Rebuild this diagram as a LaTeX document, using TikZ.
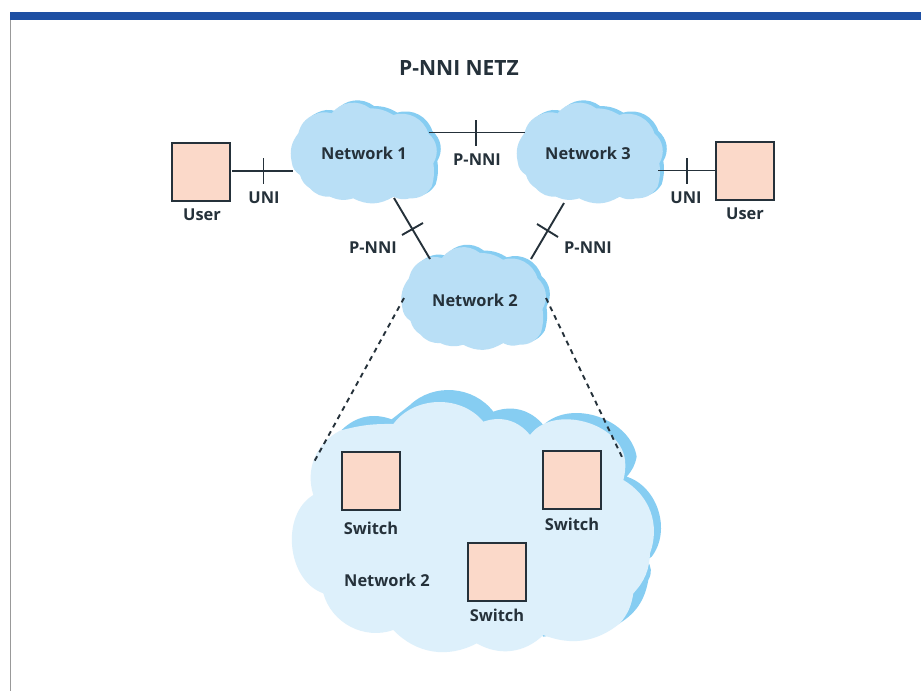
\documentclass[tikz,border=0pt]{standalone}
\usepackage{fontspec}
\setmainfont{Open Sans}
\definecolor{cloudback}{HTML}{86CDF2}
\definecolor{cloudfront}{HTML}{B9DFF6}
\definecolor{cloudbig}{HTML}{DDF0FB}
\definecolor{boxfill}{HTML}{FBD9C9}
\definecolor{ink}{HTML}{25313A}
\definecolor{barblue}{HTML}{1E4FA3}
\tikzset{x=1pt,y=-1pt,
  lbl/.style={font=\fontsize{16.4}{18}\selectfont\bfseries,text=ink,inner sep=0pt},
  boxn/.style={draw=ink,line width=2pt,fill=boxfill,minimum size=58pt,inner sep=0pt},
  link/.style={draw=ink,line width=1.9pt},
  dots/.style={draw=ink,line width=1.9pt,dash pattern=on 5pt off 4.5pt}}
\newcommand{\bl}[1]{to[bend left=#1]}
\newcommand{\smallcloud}{(425,245) \bl{25} (445,160) \bl{25} (490,105) \bl{20} (545,100) \bl{45} (660,85) \bl{15} (730,105) \bl{45} (835,160) \bl{40} (850,250) \bl{12} (845,320) \bl{30} (780,355) \bl{20} (730,350) \bl{30} (610,355) \bl{20} (540,350) \bl{25} (480,325) \bl{20} (450,285) \bl{25} (425,245) -- cycle}
\newcommand{\bigcloud}{(100,345) \bl{40} (180,152) \bl{8} (340,132) \bl{52} (610,125) \bl{35} (750,165) \bl{68} (1035,240) \bl{10} (1030,300) \bl{40} (1110,520) \bl{20} (1060,640) \bl{15} (1020,730) \bl{30} (790,765) \bl{37} (590,790) \bl{37} (340,750) \bl{47} (130,640) \bl{65} (100,345) -- cycle}
\newcommand{\bigback}{(185,150) \bl{32} (335,118) -- (390,75) \bl{48} (640,95) \bl{35} (790,135) \bl{62} (1070,230) \bl{15} (1040,290) \bl{55} (1115,530) \bl{15} (1100,540) \bl{35} (1105,600) \bl{25} (1010,735) -- (790,770) -- (400,400) -- cycle}
\begin{document}
\begin{tikzpicture}
\useasboundingbox (0,0) rectangle (921,691);
\fill[white] (0,0) rectangle (921,691);
\fill[gray!80] (9.5,12) rectangle (11,691);
\fill[barblue] (10,12) rectangle (921,20);
% big cloud
\begin{scope}[shift={(280,380)},scale=1/3]
 \fill[cloudback] \bigback;
 \fill[cloudbig] \bigcloud;
\end{scope}
% small clouds
\begin{scope}[shift={(150,80)},scale=1/3]
 \fill[cloudback,shift={(12,-7)}] \smallcloud;
 \fill[cloudfront] \smallcloud;
\end{scope}
\begin{scope}[shift={(376,80)},scale=1/3]
 \fill[cloudback,shift={(12,-7)}] \smallcloud;
 \fill[cloudfront] \smallcloud;
\end{scope}
\begin{scope}[shift={(262,224)},xscale=.33,yscale=.34]
 \fill[cloudback,shift={(12,-7)}] \smallcloud;
 \fill[cloudfront] \smallcloud;
\end{scope}
% labels
\node[font=\fontsize{21}{24}\selectfont\bfseries,text=ink,inner sep=0pt] (title) at (459,68) {P-NNI NETZ};
\node[lbl] (n1) at (364,153) {Network 1};
\node[lbl] (n3) at (588,153) {Network 3};
\node[lbl] (n2) at (475,300) {Network 2};
\node[lbl] (n2b) at (387,580) {Network 2};
\node[boxn] (u1) at (200.5,171.5) {};
\node[boxn] (u2) at (744.5,170.5) {};
\node[lbl] (lu1) at (202,215) {User};
\node[lbl] (lu2) at (745,214) {User};
\node[boxn] (s1) at (371,481) {};
\node[boxn] (s2) at (572,479.5) {};
\node[boxn] (s3) at (497,572) {};
\node[lbl] (ls1) at (371,528) {Switch};
\node[lbl] (ls2) at (572,524) {Switch};
\node[lbl] (ls3) at (497,615) {Switch};
\node[lbl] (lun1) at (264,198) {UNI};
\node[lbl] (lun2) at (686,198) {UNI};
\node[lbl] (lp1) at (477,160) {P-NNI};
\node[lbl] (lp2) at (373,248) {P-NNI};
\node[lbl] (lp3) at (588,248) {P-NNI};
% connectors
\coordinate (a1) at (293,171);
\coordinate (a2) at (232,171);
\draw[link] (a2) -- (a1);
\coordinate (t1) at (263.5,158); \coordinate (t2) at (263.5,184);
\draw[link] (t1) -- (t2);
\coordinate (b1) at (658,170.5); \coordinate (b2) at (716,170.5);
\draw[link] (b1) -- (b2);
\coordinate (t3) at (687,158); \coordinate (t4) at (687,184);
\draw[link] (t3) -- (t4);
\coordinate (c1) at (429,132.5); \coordinate (c2) at (525,132.5);
\draw[link] (c1) -- (c2);
\coordinate (t5) at (476,120); \coordinate (t6) at (476,146);
\draw[link] (t5) -- (t6);
\coordinate (d1) at (394,198); \coordinate (d2) at (430,259);
\draw[link] (d1) -- (d2);
\coordinate (t7) at (402,235); \coordinate (t8) at (423,223);
\draw[link] (t7) -- (t8);
\coordinate (e1) at (564,203); \coordinate (e2) at (531,259);
\draw[link] (e1) -- (e2);
\coordinate (t9) at (537,224); \coordinate (t10) at (558,237);
\draw[link] (t9) -- (t10);
\coordinate (f1) at (404,298); \coordinate (f2) at (314,462);
\draw[dots] (f1) -- (f2);
\coordinate (g1) at (546,298); \coordinate (g2) at (622,457);
\draw[dots] (g1) -- (g2);
\end{tikzpicture}
\end{document}
